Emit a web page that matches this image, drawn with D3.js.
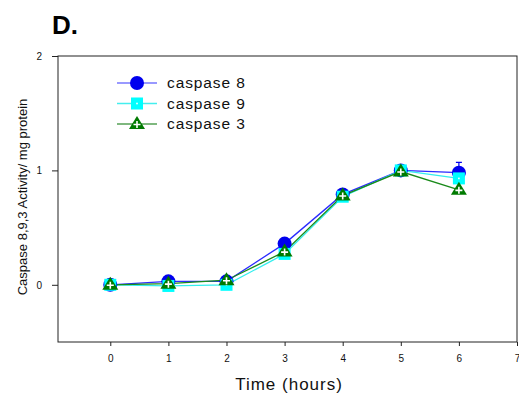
<!DOCTYPE html>
<html>
<head>
<meta charset="utf-8">
<script src="https://cdn.jsdelivr.net/npm/d3@7"></script>
<style>
  body { margin: 0; background: #fff; }
  text { font-family: Arial, "Liberation Sans", sans-serif; }
</style>
</head>
<body>
<div id="chart"></div>
<script>
// data
const hours = [0, 1, 2, 3, 4, 5, 6];
const casp8 = [0.0, 0.03, 0.03, 0.36, 0.79, 1.0, 0.98];
const casp8Err = [0, 0, 0, 0, 0, 0, 0.09];
const casp9 = [0.0, -0.01, 0.0, 0.27, 0.77, 1.0, 0.93];
const casp3 = [0.0, 0.01, 0.04, 0.29, 0.78, 0.99, 0.83];
const xTicks = [0, 1, 2, 3, 4, 5, 6, 7];
const yTicks = [0, 1, 2];

const width = 519, height = 397;
const plot = {left: 58, right: 517, top: 56, bottom: 342};

const svg = d3.select("#chart").append("svg")
    .attr("width", width)
    .attr("height", height);

const x = d3.scaleLinear().domain([-0.9, 7]).range([plot.left, plot.right]);
const y = d3.scaleLinear().domain([-0.5, 2]).range([plot.bottom, plot.top]);

// frame
svg.append("rect")
    .attr("x", plot.left).attr("y", plot.top)
    .attr("width", plot.right - plot.left)
    .attr("height", plot.bottom - plot.top)
    .style("fill", "none")
    .style("stroke", "#222")
    .style("stroke-width", 1);

// axes
const xAxis = svg.append("g")
    .attr("transform", "translate(0," + plot.bottom + ")")
    .call(d3.axisBottom(x).tickValues(xTicks).tickSize(4).tickPadding(9).tickFormat(d3.format("d")));
const yAxis = svg.append("g")
    .attr("transform", "translate(" + plot.left + ",0)")
    .call(d3.axisLeft(y).tickValues(yTicks).tickSize(6).tickPadding(10).tickFormat(d3.format("d")));

[xAxis, yAxis].forEach(function(a) {
  a.select(".domain").remove();
  a.selectAll("line").style("stroke", "#222");
  a.selectAll("text").style("font-size", "10px").style("fill", "#111")
    .style("font-family", "Arial, 'Liberation Sans', sans-serif");
});

// titles
svg.append("text")
    .attr("x", 52).attr("y", 34)
    .style("font-size", "26px").style("font-weight", "bold")
    .text("D.");

svg.append("text")
    .attr("x", 289).attr("y", 390)
    .attr("text-anchor", "middle")
    .style("font-size", "17px")
    .style("letter-spacing", "1px")
    .style("fill", "#111")
    .text("Time (hours)");

svg.append("text")
    .attr("text-anchor", "middle")
    .attr("transform", "translate(27," + 197 + ")rotate(-90)")
    .style("font-size", "13px")
    .style("fill", "#111")
    .text("Caspase 8,9,3 Activity/ mg protein");

const series = [
  {name: "caspase 8", values: casp8, line: "#2a2aff", legendLine: "#7777ff", fill: "#0000ee", shape: "circle"},
  {name: "caspase 9", values: casp9, line: "#33eeee", legendLine: "#44eeee", fill: "#00ffff", shape: "square"},
  {name: "caspase 3", values: casp3, line: "#1a8a1a", legendLine: "#55a055", fill: "#007a00", shape: "triangle"}
];

const line = d3.line()
    .x(function(d) { return x(d[0]); })
    .y(function(d) { return y(d[1]); });

function drawMarker(g, shape, fill) {
  if (shape === "circle") {
    g.append("circle").attr("r", 7).style("fill", fill);
  } else if (shape === "square") {
    g.append("rect").attr("x", -6).attr("y", -6).attr("width", 12).attr("height", 12).style("fill", fill);
    g.append("rect").attr("x", -0.8).attr("y", -0.8).attr("width", 1.6).attr("height", 1.6).style("fill", "#fff");
  } else {
    g.append("path").attr("d", "M0,-8L8,5L-8,5Z").style("fill", fill);
    g.append("path").attr("d", "M-3.5,0.5H3.5M0,-3V4").style("stroke", "#fff").style("stroke-width", 1.6);
  }
}

// error bar (caspase 8, 6h)
const errData = hours.map(function(h, i) { return [h, casp8[i], casp8Err[i]]; })
    .filter(function(d) { return d[2] > 0; });
svg.selectAll(".err").data(errData).join("path")
    .attr("d", function(d) {
      const cx = x(d[0]), top = y(d[1] + d[2]), mid = y(d[1]);
      return "M" + cx + "," + mid + "V" + top + "M" + (cx - 3) + "," + top + "H" + (cx + 3);
    })
    .style("stroke", "#0000ee").style("stroke-width", 1.2).style("fill", "none");

// lines
series.forEach(function(s) {
  svg.append("path")
      .datum(hours.map(function(h, i) { return [h, s.values[i]]; }))
      .attr("d", line)
      .style("fill", "none")
      .style("stroke", s.line)
      .style("stroke-width", 1.3);
});

// markers
series.forEach(function(s) {
  svg.selectAll(".m-" + s.shape)
      .data(hours.map(function(h, i) { return [h, s.values[i]]; }))
      .join("g")
      .attr("transform", function(d) { return "translate(" + x(d[0]) + "," + y(d[1]) + ")"; })
      .each(function() { drawMarker(d3.select(this), s.shape, s.fill); });
});

// legend
const legend = svg.append("g");
series.forEach(function(s, i) {
  const ly = 83 + i * 20.5;
  legend.append("line")
      .attr("x1", 117).attr("x2", 157).attr("y1", ly).attr("y2", ly)
      .style("stroke", s.legendLine).style("stroke-width", 1.3);
  const g = legend.append("g").attr("transform", "translate(137," + ly + ")");
  drawMarker(g, s.shape, s.fill);
  legend.append("text")
      .attr("x", 167).attr("y", ly + 5)
      .style("font-size", "15.5px")
      .style("letter-spacing", "0.9px")
      .style("fill", "#111")
      .text(s.name);
});
</script>
</body>
</html>
